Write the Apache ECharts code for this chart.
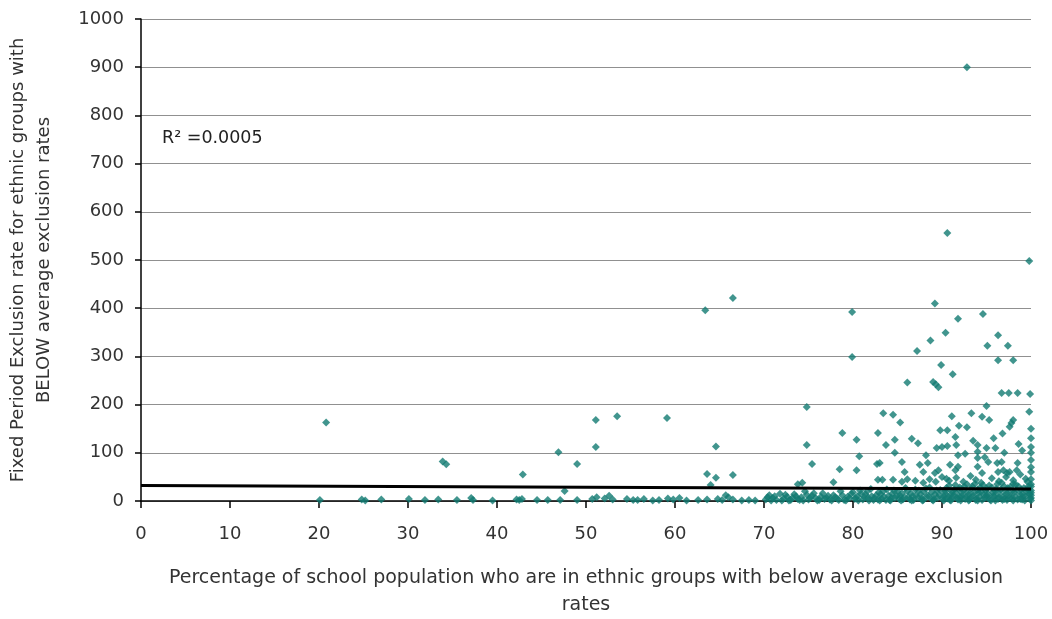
<!DOCTYPE html>
<html>
<head>
<meta charset="utf-8">
<script src="https://cdn.jsdelivr.net/npm/echarts@6/dist/echarts.min.js"></script>
<style>html,body{margin:0;padding:0;background:#fff;}#c{width:1052px;height:619px;}</style>
</head>
<body>
<div id="c"></div>
<script>
// ---- data ----
const xTicks = [0,10,20,30,40,50,60,70,80,90,100];
const yTicks = [0,100,200,300,400,500,600,700,800,900,1000];
const xTitle = "Percentage of school population who are in ethnic groups with below average exclusion\nrates";
const yTitle = "Fixed Period Exclusion rate for ethnic groups with\nBELOW average exclusion rates";
const r2Label = "R² =0.0005";

// scattered points below 70%
const pointsLow = [
  [20.8,163],[20.1,2],[24.8,3],[25.2,1],[27,3],[30.1,4],[31.9,2],[33.4,3],[33.9,82],[34.3,76],
  [35.5,2],[37.1,6],[37.3,2],[39.5,1],[42.2,3],[42.5,2],[42.8,4],[42.9,55],[44.5,2],[45.7,2],
  [47.1,2],[46.9,101],[47.6,21],[49,77],[49,2],[50.7,4],[51.1,168],[51.1,112],[51.2,8],[52.1,5],
  [52.6,11],[53,3],[53.5,176],[54.6,4],[55.3,2],[55.8,2],[57.5,1],[59.1,172],[59.2,5],[59.8,3],
  [61.3,1],[62.6,2],[63.4,396],[63.6,56],[63.6,3],[64.6,48],[64.6,113],[64.8,4],[65.3,2],[66.5,421],
  [66.5,54],[66.5,3],[67.5,1],[68.3,2],[69,1],[66,8],[65.7,12],[64,33],[60.5,6],[56.5,4],[58.2,2]
];
// scattered points 70-100%, above the dense band
const pointsHigh = [
  [74.8,195],[74.8,116],[75.4,77],[73.8,35],[74.3,38],[77.8,39],[78.5,66],[78.8,141],[79.9,392],[79.9,299],
  [80.4,127],[80.4,64],[80.7,93],[82.8,141],[82.7,77],[82.8,44],[83.4,182],[84.5,179],[85.3,163],[83.7,116],
  [84.7,127],[84.7,100],[85.5,81],[83,79],[83.3,44],[85.8,60],[86.1,246],[86.6,129],[87.3,120],[87.2,311],
  [87.5,75],[88.4,79],[87.9,60],[88.7,333],[89.2,410],[89,247],[89.3,242],[89.6,236],[89.9,282],[89.4,110],
  [90,112],[90.6,114],[89.8,147],[90.6,147],[89.6,64],[89.2,58],[90.4,349],[90.6,556],[90.9,75],[91.1,176],
  [91.2,263],[91.5,133],[91.6,116],[91.8,378],[91.8,95],[91.5,64],[91.8,71],[91.9,156],[92.8,153],[92.8,900],
  [94,116],[94,102],[94,89],[94,71],[94.5,58],[94.5,175],[94.6,388],[94.8,91],[95.2,81],[95,110],
  [95,197],[95.1,322],[95.3,168],[96,110],[96.2,79],[96.3,60],[96.3,344],[96.3,292],[96.7,81],[96.7,224],
  [96.9,64],[97.3,58],[97.4,322],[97.5,224],[97.6,60],[97.6,154],[97.8,162],[98,168],[98,292],[98.4,64],
  [98.5,79],[98.5,224],[99.8,185],[99.9,222],[99.8,498],[100,150],[100,130],[100,112],[100,100],[100,85],
  [100,70],[100,60],[100,45],[100,35],
  [84.5,44],[85.5,40],[86.1,45],[87,42],[87.9,38],[88.6,45],[89.3,40],[90,50],[90.5,46],
  [90.8,42],[91.6,48],[92.4,40],[93.2,52],[93.8,44],[94.4,38],[95.6,47],[96.4,41],[97.2,50],[98,43],
  [98.8,55],[99.4,46],[99.6,40],
  [88.2,95],[92.6,98],[93.5,125],[96.8,140],[97,100],[95.8,130],[99,105],[98.6,118],[93.3,182]
];
// dense band near zero, 70-100%
const pointsBand = [
  [70.2,3],[70.6,12],[71,6],[71.4,2],[71.8,15],[72.2,5],[72.6,9],[73,2],[73.4,14],[73.8,4],
  [74.2,8],[74.6,20],[75,3],[75.4,11],[75.8,6],[76.2,2],[76.6,16],[77,7],[77.4,3],[77.8,12],
  [78.2,5],[78.6,20],[79,2],[79.4,9],[79.8,15],[80.2,4],[70.8,1],[72.8,1],[74.4,1],[76,1],
  [77.6,1],[79.2,1],
  [80.5,10],[80.8,22],[81.1,3],[81.4,14],[81.7,7],[82,25],[82.3,2],[82.6,12],[82.9,18],[83.2,5],
  [83.5,9],[83.8,24],[84.1,2],[84.4,15],[84.7,6],[85,20],[85.3,11],[85.6,3],[85.9,27],[86.2,8],
  [86.5,16],[86.8,2],[87.1,12],[87.4,22],[87.7,5],[88,18],[88.3,9],[88.6,28],[88.9,3],[89.2,14],
  [89.5,7],[89.8,23],[80.6,1],[81.8,1],[83,1],[84.2,1],[85.4,1],[86.6,1],[87.8,1],[89,1],
  [90.1,4],[90.3,16],[90.5,27],[90.7,9],[90.9,2],[91.1,20],[91.3,12],[91.5,33],[91.7,6],[91.9,24],
  [92.1,1],[92.3,15],[92.5,30],[92.7,8],[92.9,19],[93.1,3],[93.3,26],[93.5,11],[93.7,36],[93.9,5],
  [94.1,17],[94.3,28],[94.5,2],[94.7,13],[94.9,22],[95.1,7],[95.3,32],[95.5,1],[95.7,18],[95.9,10],
  [96.1,25],[96.3,4],[96.5,15],[96.7,38],[96.9,8],[97.1,21],[97.3,2],[97.5,12],[97.7,29],[97.9,6],
  [98.1,18],[98.3,34],[98.5,3],[98.7,14],[98.9,24],[99.1,9],[99.3,1],[99.5,19],[99.7,30],[99.9,5],
  [100,12],[100,22],[100,1],[90.2,1],[91,1],[92,8],[93,1],[94,1],[95,12],[96,1],[97,4],[98,1],[99,3]
];
// further band points that fill in the solid teal strip
const pointsBand2 = [
  [70.4,8],[71.2,10],[72,1],[72.4,13],[73.2,7],[73.6,10],[74,2],[74.8,13],[75.2,6],[75.6,16],
  [76.4,9],[76.8,4],[77.2,11],[78,8],[78.4,2],[78.8,12],[79.6,6],[80,18],
  [80.3,6],[80.9,15],[81.3,8],[81.6,20],[82.1,10],[82.4,6],[82.8,3],[83.1,14],[83.4,20],[83.7,2],
  [84,11],[84.3,6],[84.6,22],[84.9,11],[85.2,4],[85.5,16],[85.8,8],[86.1,20],[86.4,3],[86.7,10],
  [87,24],[87.3,6],[87.6,14],[87.9,2],[88.2,26],[88.5,10],[88.8,17],[89.1,4],[89.4,22],[89.7,12],
  [90.2,10],[90.4,21],[90.6,5],[90.8,32],[91,14],[91.2,7],[91.4,24],[91.6,16],[91.8,3],[92,28],
  [92.2,10],[92.4,22],[92.6,4],[92.8,35],[93,13],[93.2,8],[93.4,30],[93.6,17],[93.8,2],[94,24],
  [94.2,9],[94.4,19],[94.6,33],[94.8,6],[95,26],[95.2,14],[95.4,3],[95.6,28],[95.8,11],[96,20],
  [96.2,35],[96.4,8],[96.6,24],[96.8,2],[97,30],[97.2,14],[97.4,27],[97.6,6],[97.8,19],[98,36],
  [98.2,9],[98.4,24],[98.6,30],[98.8,4],[99,15],[99.2,27],[99.4,10],[99.6,24],[99.8,14],[100,30],
  [100,6],[100,17]
];
// linear trend line end points
const trendLine = [[0,32],[100,25]];

// ---- chart ----
const chart = echarts.init(document.getElementById('c'), null, {renderer:'canvas'});
const font = 'DejaVu Sans';
const teal = '#117a72';
const scatterStyle = {type:'scatter', symbol:'diamond', symbolSize:8, itemStyle:{color:teal}};
chart.setOption({
  animation: false,
  backgroundColor: '#fff',
  grid: {left:141, right:21, top:19, bottom:118, containLabel:false, outerBoundsMode:'none'},
  xAxis: {
    type:'value', min:xTicks[0], max:xTicks[xTicks.length-1], interval:10,
    name: xTitle, nameLocation:'middle', nameGap:64,
    nameTextStyle:{fontFamily:font, fontSize:19, color:'#333', lineHeight:27},
    axisLine:{show:true, onZero:false, lineStyle:{color:'#000', width:1.5}},
    axisTick:{show:true, inside:false, length:7, lineStyle:{color:'#000', width:1.5}},
    axisLabel:{fontFamily:font, fontSize:18, color:'#333', margin:24, formatter: v => String(v)},
    splitLine:{show:false}
  },
  yAxis: {
    type:'value', min:yTicks[0], max:yTicks[yTicks.length-1], interval:100,
    name: yTitle, nameLocation:'middle', nameGap:84, nameRotate:90,
    nameTextStyle:{fontFamily:font, fontSize:18, color:'#333', lineHeight:26},
    axisLine:{show:true, lineStyle:{color:'#000', width:1.5}},
    axisTick:{show:true, inside:false, length:6, lineStyle:{color:'#000', width:1.5}},
    axisLabel:{fontFamily:font, fontSize:18, color:'#333', margin:17, formatter: v => String(v)},
    splitLine:{show:true, lineStyle:{color:'#909090', width:1.2}}
  },
  graphic: [{
    type:'text', left:162, top:129,
    style:{text:r2Label, fontFamily:font, fontSize:17.5, fill:'#222'}
  }],
  series: [
    Object.assign({data:pointsLow}, scatterStyle),
    Object.assign({data:pointsHigh}, scatterStyle),
    Object.assign({data:pointsBand}, scatterStyle),
    Object.assign({data:pointsBand2}, scatterStyle),
    {type:'line', data:trendLine, symbol:'none', z:5, lineStyle:{color:'#000', width:3}}
  ]
});
</script>
</body>
</html>
